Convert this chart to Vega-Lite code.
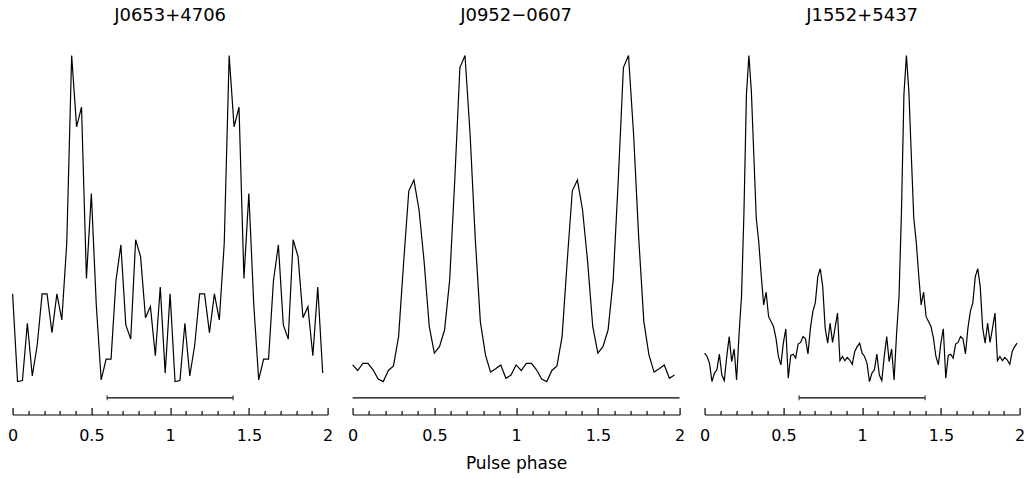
{
"$schema": "https://vega.github.io/schema/vega-lite/v6.json",
"padding": {"left": 6.6, "top": 6.5, "right": 0, "bottom": 0},
"bounds": "flush",
"spacing": 25,
"config": {"view": {"stroke": null}, "font": "DejaVu Sans"},
"datasets": {
"j0653": [
{"phase":0,"flux":0.269},{"phase":0.0313,"flux":0},{"phase":0.0625,"flux":0.003},{"phase":0.0938,"flux":0.179},{"phase":0.125,"flux":0.017},{"phase":0.1563,"flux":0.112},{"phase":0.1875,"flux":0.269},{"phase":0.2188,"flux":0.269},{"phase":0.25,"flux":0.150},{"phase":0.2813,"flux":0.269},{"phase":0.3125,"flux":0.189},{"phase":0.3438,"flux":0.424},{"phase":0.375,"flux":1.0},{"phase":0.4063,"flux":0.781},{"phase":0.4375,"flux":0.842},{"phase":0.4688,"flux":0.316},{"phase":0.5,"flux":0.577},{"phase":0.5313,"flux":0.235},{"phase":0.5625,"flux":0.005},{"phase":0.5938,"flux":0.069},{"phase":0.625,"flux":0.069},{"phase":0.6563,"flux":0.310},{"phase":0.6875,"flux":0.419},{"phase":0.7188,"flux":0.174},{"phase":0.75,"flux":0.130},{"phase":0.7813,"flux":0.435},{"phase":0.8125,"flux":0.383},{"phase":0.8438,"flux":0.196},{"phase":0.875,"flux":0.230},{"phase":0.9063,"flux":0.079},{"phase":0.9375,"flux":0.290},{"phase":0.9688,"flux":0.026},
{"phase":1,"flux":0.269},{"phase":1.0313,"flux":0},{"phase":1.0625,"flux":0.003},{"phase":1.0938,"flux":0.179},{"phase":1.125,"flux":0.017},{"phase":1.1563,"flux":0.112},{"phase":1.1875,"flux":0.269},{"phase":1.2188,"flux":0.269},{"phase":1.25,"flux":0.150},{"phase":1.2813,"flux":0.269},{"phase":1.3125,"flux":0.189},{"phase":1.3438,"flux":0.424},{"phase":1.375,"flux":1.0},{"phase":1.4063,"flux":0.781},{"phase":1.4375,"flux":0.842},{"phase":1.4688,"flux":0.316},{"phase":1.5,"flux":0.577},{"phase":1.5313,"flux":0.235},{"phase":1.5625,"flux":0.005},{"phase":1.5938,"flux":0.069},{"phase":1.625,"flux":0.069},{"phase":1.6563,"flux":0.310},{"phase":1.6875,"flux":0.419},{"phase":1.7188,"flux":0.174},{"phase":1.75,"flux":0.130},{"phase":1.7813,"flux":0.435},{"phase":1.8125,"flux":0.383},{"phase":1.8438,"flux":0.196},{"phase":1.875,"flux":0.230},{"phase":1.9063,"flux":0.079},{"phase":1.9375,"flux":0.290},{"phase":1.9688,"flux":0.026}
],
"j0952": [
{"phase":0,"flux":0.051},{"phase":0.0313,"flux":0.034},{"phase":0.0625,"flux":0.056},{"phase":0.0938,"flux":0.056},{"phase":0.125,"flux":0.036},{"phase":0.1563,"flux":0.008},{"phase":0.1875,"flux":0},{"phase":0.2188,"flux":0.034},{"phase":0.25,"flux":0.048},{"phase":0.2813,"flux":0.138},{"phase":0.3125,"flux":0.368},{"phase":0.3438,"flux":0.585},{"phase":0.375,"flux":0.618},{"phase":0.4063,"flux":0.527},{"phase":0.4375,"flux":0.368},{"phase":0.4688,"flux":0.169},{"phase":0.5,"flux":0.087},{"phase":0.5313,"flux":0.107},{"phase":0.5625,"flux":0.158},{"phase":0.5938,"flux":0.312},{"phase":0.625,"flux":0.619},{"phase":0.6563,"flux":0.963},{"phase":0.6875,"flux":1.0},{"phase":0.7188,"flux":0.757},{"phase":0.75,"flux":0.440},{"phase":0.7813,"flux":0.184},{"phase":0.8125,"flux":0.082},{"phase":0.8438,"flux":0.029},{"phase":0.875,"flux":0.039},{"phase":0.9063,"flux":0.051},{"phase":0.9375,"flux":0.010},{"phase":0.9688,"flux":0.020},
{"phase":1,"flux":0.051},{"phase":1.0313,"flux":0.034},{"phase":1.0625,"flux":0.056},{"phase":1.0938,"flux":0.056},{"phase":1.125,"flux":0.036},{"phase":1.1563,"flux":0.008},{"phase":1.1875,"flux":0},{"phase":1.2188,"flux":0.034},{"phase":1.25,"flux":0.048},{"phase":1.2813,"flux":0.138},{"phase":1.3125,"flux":0.368},{"phase":1.3438,"flux":0.585},{"phase":1.375,"flux":0.618},{"phase":1.4063,"flux":0.527},{"phase":1.4375,"flux":0.368},{"phase":1.4688,"flux":0.169},{"phase":1.5,"flux":0.087},{"phase":1.5313,"flux":0.107},{"phase":1.5625,"flux":0.158},{"phase":1.5938,"flux":0.312},{"phase":1.625,"flux":0.619},{"phase":1.6563,"flux":0.963},{"phase":1.6875,"flux":1.0},{"phase":1.7188,"flux":0.757},{"phase":1.75,"flux":0.440},{"phase":1.7813,"flux":0.184},{"phase":1.8125,"flux":0.082},{"phase":1.8438,"flux":0.029},{"phase":1.875,"flux":0.039},{"phase":1.9063,"flux":0.051},{"phase":1.9375,"flux":0.010},{"phase":1.9688,"flux":0.020}
],
"j1552": [
{"phase":0,"flux":0.087},{"phase":0.0156,"flux":0.077},{"phase":0.0313,"flux":0.056},{"phase":0.0469,"flux":0},{"phase":0.0625,"flux":0.026},{"phase":0.0781,"flux":0.036},{"phase":0.0938,"flux":0.084},{"phase":0.1094,"flux":0.020},{"phase":0.125,"flux":0.003},{"phase":0.1406,"flux":0.077},{"phase":0.1563,"flux":0.138},{"phase":0.1719,"flux":0.061},{"phase":0.1875,"flux":0.100},{"phase":0.2031,"flux":0.005},{"phase":0.2188,"flux":0.145},{"phase":0.2344,"flux":0.261},{"phase":0.25,"flux":0.521},{"phase":0.2656,"flux":0.88},{"phase":0.2813,"flux":1.0},{"phase":0.2969,"flux":0.89},{"phase":0.3125,"flux":0.695},{"phase":0.3281,"flux":0.501},{"phase":0.3438,"flux":0.429},{"phase":0.3594,"flux":0.327},{"phase":0.375,"flux":0.235},{"phase":0.3906,"flux":0.274},{"phase":0.4063,"flux":0.199},{"phase":0.4219,"flux":0.184},{"phase":0.4375,"flux":0.169},{"phase":0.4531,"flux":0.133},{"phase":0.4688,"flux":0.077},{"phase":0.4844,"flux":0.051},{"phase":0.5,"flux":0.118},{"phase":0.5156,"flux":0.162},{"phase":0.5313,"flux":0.010},{"phase":0.5469,"flux":0.080},{"phase":0.5625,"flux":0.084},{"phase":0.5781,"flux":0.072},{"phase":0.5938,"flux":0.115},{"phase":0.6094,"flux":0.120},{"phase":0.625,"flux":0.138},{"phase":0.6406,"flux":0.131},{"phase":0.6563,"flux":0.085},{"phase":0.6719,"flux":0.164},{"phase":0.6875,"flux":0.215},{"phase":0.7031,"flux":0.242},{"phase":0.7188,"flux":0.322},{"phase":0.7344,"flux":0.346},{"phase":0.75,"flux":0.291},{"phase":0.7656,"flux":0.164},{"phase":0.7813,"flux":0.118},{"phase":0.7969,"flux":0.179},{"phase":0.8125,"flux":0.120},{"phase":0.8281,"flux":0.164},{"phase":0.8438,"flux":0.210},{"phase":0.8594,"flux":0.064},{"phase":0.875,"flux":0.077},{"phase":0.8906,"flux":0.064},{"phase":0.9063,"flux":0.074},{"phase":0.9219,"flux":0.066},{"phase":0.9375,"flux":0.053},{"phase":0.9531,"flux":0.092},{"phase":0.9688,"flux":0.107},{"phase":0.9844,"flux":0.118},
{"phase":1,"flux":0.087},{"phase":1.0156,"flux":0.077},{"phase":1.0313,"flux":0.056},{"phase":1.0469,"flux":0},{"phase":1.0625,"flux":0.026},{"phase":1.0781,"flux":0.036},{"phase":1.0938,"flux":0.084},{"phase":1.1094,"flux":0.020},{"phase":1.125,"flux":0.003},{"phase":1.1406,"flux":0.077},{"phase":1.1563,"flux":0.138},{"phase":1.1719,"flux":0.061},{"phase":1.1875,"flux":0.100},{"phase":1.2031,"flux":0.005},{"phase":1.2188,"flux":0.145},{"phase":1.2344,"flux":0.261},{"phase":1.25,"flux":0.521},{"phase":1.2656,"flux":0.88},{"phase":1.2813,"flux":1.0},{"phase":1.2969,"flux":0.89},{"phase":1.3125,"flux":0.695},{"phase":1.3281,"flux":0.501},{"phase":1.3438,"flux":0.429},{"phase":1.3594,"flux":0.327},{"phase":1.375,"flux":0.235},{"phase":1.3906,"flux":0.274},{"phase":1.4063,"flux":0.199},{"phase":1.4219,"flux":0.184},{"phase":1.4375,"flux":0.169},{"phase":1.4531,"flux":0.133},{"phase":1.4688,"flux":0.077},{"phase":1.4844,"flux":0.051},{"phase":1.5,"flux":0.118},{"phase":1.5156,"flux":0.162},{"phase":1.5313,"flux":0.010},{"phase":1.5469,"flux":0.080},{"phase":1.5625,"flux":0.084},{"phase":1.5781,"flux":0.072},{"phase":1.5938,"flux":0.115},{"phase":1.6094,"flux":0.120},{"phase":1.625,"flux":0.138},{"phase":1.6406,"flux":0.131},{"phase":1.6563,"flux":0.085},{"phase":1.6719,"flux":0.164},{"phase":1.6875,"flux":0.215},{"phase":1.7031,"flux":0.242},{"phase":1.7188,"flux":0.322},{"phase":1.7344,"flux":0.346},{"phase":1.75,"flux":0.291},{"phase":1.7656,"flux":0.164},{"phase":1.7813,"flux":0.118},{"phase":1.7969,"flux":0.179},{"phase":1.8125,"flux":0.120},{"phase":1.8281,"flux":0.164},{"phase":1.8438,"flux":0.210},{"phase":1.8594,"flux":0.064},{"phase":1.875,"flux":0.077},{"phase":1.8906,"flux":0.064},{"phase":1.9063,"flux":0.074},{"phase":1.9219,"flux":0.066},{"phase":1.9375,"flux":0.053},{"phase":1.9531,"flux":0.092},{"phase":1.9688,"flux":0.107},{"phase":1.9844,"flux":0.118}
],
"bars": [
{"psr":"J0653+4706","start":0.6,"end":1.4},
{"psr":"J0952−0607","start":0,"end":2},
{"psr":"J1552+5437","start":0.6,"end":1.4}
]
},
"hconcat": [
{
"width": 315, "height": 359,
"title": {"text": "J0653+4706", "font": "DejaVu Sans", "fontSize": 18, "fontWeight": "normal", "color": "black", "offset": 28, "anchor": "middle", "frame": "group"},
"layer": [
{"data": {"name": "j0653"}, "mark": {"type": "line", "color": "black", "strokeWidth": 1.2},
 "encoding": {
  "x": {"field": "phase", "type": "quantitative", "scale": {"domain": [0, 2], "nice": false, "zero": false},
   "axis": {"values": [0,0.1,0.2,0.3,0.4,0.5,0.6,0.7,0.8,0.9,1,1.1,1.2,1.3,1.4,1.5,1.6,1.7,1.8,1.9,2], "tickCount": 100,
    "tickSize": {"condition": {"test": "abs(datum.value*2 - round(datum.value*2)) < 0.001", "value": -7}, "value": -4},
    "labelExpr": "abs(datum.value*2 - round(datum.value*2)) < 0.001 ? toString(round(datum.value*2)/2) : ''",
    "labelFlush": false, "labelOverlap": false, "labelPadding": 20, "grid": false, "title": null,
    "domainColor": "black", "tickColor": "black", "labelColor": "black", "domainWidth": 1.2, "tickWidth": 1.2,
    "labelFont": "DejaVu Sans", "labelFontSize": 16}},
  "y": {"field": "flux", "type": "quantitative", "scale": {"domain": [-0.101, 1], "nice": false, "zero": false}, "axis": null}
 }},
{"data": {"name": "bars"}, "transform": [{"filter": "datum.psr === 'J0653+4706'"}],
 "mark": {"type": "rule", "color": "black", "strokeWidth": 1.2},
 "encoding": {"x": {"field": "start", "type": "quantitative"}, "x2": {"field": "end"}, "y": {"datum": -0.05, "type": "quantitative"}}},
{"data": {"name": "bars"}, "transform": [{"filter": "datum.psr === 'J0653+4706'"}],
 "mark": {"type": "tick", "orient": "vertical", "size": 5, "thickness": 1.2, "color": "black"},
 "encoding": {"x": {"field": "start", "type": "quantitative"}, "y": {"datum": -0.05, "type": "quantitative"}}},
{"data": {"name": "bars"}, "transform": [{"filter": "datum.psr === 'J0653+4706'"}],
 "mark": {"type": "tick", "orient": "vertical", "size": 5, "thickness": 1.2, "color": "black"},
 "encoding": {"x": {"field": "end", "type": "quantitative"}, "y": {"datum": -0.05, "type": "quantitative"}}}
]
},
{
"width": 327, "height": 359,
"title": {"text": "J0952−0607", "font": "DejaVu Sans", "fontSize": 18, "fontWeight": "normal", "color": "black", "offset": 28, "anchor": "middle", "frame": "group"},
"layer": [
{"data": {"name": "j0952"}, "mark": {"type": "line", "color": "black", "strokeWidth": 1.2},
 "encoding": {
  "x": {"field": "phase", "type": "quantitative", "scale": {"domain": [0, 2], "nice": false, "zero": false},
   "axis": {"values": [0,0.1,0.2,0.3,0.4,0.5,0.6,0.7,0.8,0.9,1,1.1,1.2,1.3,1.4,1.5,1.6,1.7,1.8,1.9,2], "tickCount": 100,
    "tickSize": {"condition": {"test": "abs(datum.value*2 - round(datum.value*2)) < 0.001", "value": -7}, "value": -4},
    "labelExpr": "abs(datum.value*2 - round(datum.value*2)) < 0.001 ? toString(round(datum.value*2)/2) : ''",
    "labelFlush": false, "labelOverlap": false, "labelPadding": 20, "grid": false, "title": "Pulse phase",
    "titleFont": "DejaVu Sans", "titleFontSize": 17, "titleFontWeight": "normal", "titleColor": "black", "titlePadding": 9.5,
    "domainColor": "black", "tickColor": "black", "labelColor": "black", "domainWidth": 1.2, "tickWidth": 1.2,
    "labelFont": "DejaVu Sans", "labelFontSize": 16}},
  "y": {"field": "flux", "type": "quantitative", "scale": {"domain": [-0.101, 1], "nice": false, "zero": false}, "axis": null}
 }},
{"data": {"name": "bars"}, "transform": [{"filter": "datum.psr === 'J0952−0607'"}],
 "mark": {"type": "rule", "color": "black", "strokeWidth": 1.2},
 "encoding": {"x": {"field": "start", "type": "quantitative"}, "x2": {"field": "end"}, "y": {"datum": -0.05, "type": "quantitative"}}}
]
},
{
"width": 315, "height": 359,
"title": {"text": "J1552+5437", "font": "DejaVu Sans", "fontSize": 18, "fontWeight": "normal", "color": "black", "offset": 28, "anchor": "middle", "frame": "group"},
"layer": [
{"data": {"name": "j1552"}, "mark": {"type": "line", "color": "black", "strokeWidth": 1.2},
 "encoding": {
  "x": {"field": "phase", "type": "quantitative", "scale": {"domain": [0, 2], "nice": false, "zero": false},
   "axis": {"values": [0,0.1,0.2,0.3,0.4,0.5,0.6,0.7,0.8,0.9,1,1.1,1.2,1.3,1.4,1.5,1.6,1.7,1.8,1.9,2], "tickCount": 100,
    "tickSize": {"condition": {"test": "abs(datum.value*2 - round(datum.value*2)) < 0.001", "value": -7}, "value": -4},
    "labelExpr": "abs(datum.value*2 - round(datum.value*2)) < 0.001 ? toString(round(datum.value*2)/2) : ''",
    "labelFlush": false, "labelOverlap": false, "labelPadding": 20, "grid": false, "title": null,
    "domainColor": "black", "tickColor": "black", "labelColor": "black", "domainWidth": 1.2, "tickWidth": 1.2,
    "labelFont": "DejaVu Sans", "labelFontSize": 16}},
  "y": {"field": "flux", "type": "quantitative", "scale": {"domain": [-0.101, 1], "nice": false, "zero": false}, "axis": null}
 }},
{"data": {"name": "bars"}, "transform": [{"filter": "datum.psr === 'J1552+5437'"}],
 "mark": {"type": "rule", "color": "black", "strokeWidth": 1.2},
 "encoding": {"x": {"field": "start", "type": "quantitative"}, "x2": {"field": "end"}, "y": {"datum": -0.05, "type": "quantitative"}}},
{"data": {"name": "bars"}, "transform": [{"filter": "datum.psr === 'J1552+5437'"}],
 "mark": {"type": "tick", "orient": "vertical", "size": 5, "thickness": 1.2, "color": "black"},
 "encoding": {"x": {"field": "start", "type": "quantitative"}, "y": {"datum": -0.05, "type": "quantitative"}}},
{"data": {"name": "bars"}, "transform": [{"filter": "datum.psr === 'J1552+5437'"}],
 "mark": {"type": "tick", "orient": "vertical", "size": 5, "thickness": 1.2, "color": "black"},
 "encoding": {"x": {"field": "end", "type": "quantitative"}, "y": {"datum": -0.05, "type": "quantitative"}}}
]
}
]
}
